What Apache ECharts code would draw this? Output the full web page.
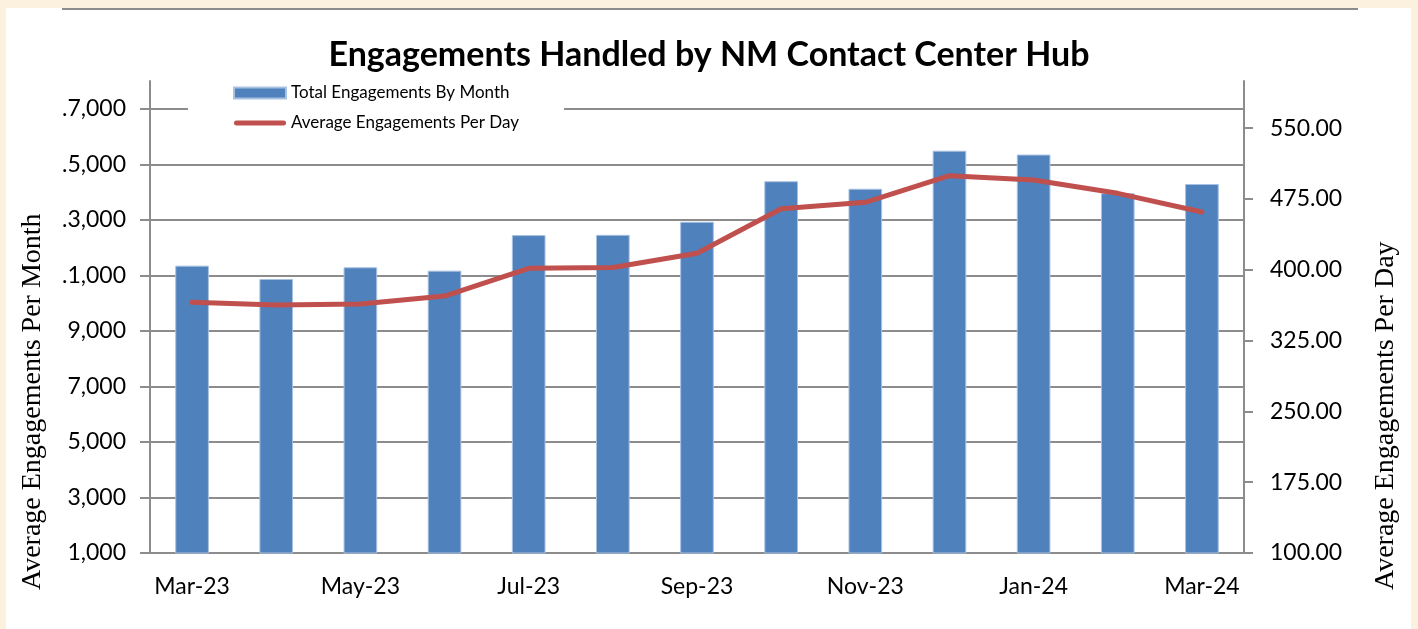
<!DOCTYPE html>
<html>
<head>
<meta charset="utf-8">
<script src="https://cdn.jsdelivr.net/npm/echarts@6/dist/echarts.min.js"></script>
<style>
  html, body { margin: 0; padding: 0; background: #FCF1DE; }
  #chart { width: 1418px; height: 629px; }
</style>
</head>
<body>
<div id="chart"></div>
<script>
const categories = ['Mar-23','Apr-23','May-23','Jun-23','Jul-23','Aug-23','Sep-23','Oct-23','Nov-23','Dec-23','Jan-24','Feb-24','Mar-24'];
const totalEngagements = [11350, 10870, 11290, 11170, 12450, 12460, 12930, 14390, 14120, 15490, 15350, 13960, 14290];
const avgPerDay = [365.6, 362.7, 363.8, 372.2, 401.6, 402.5, 417.5, 464.7, 471.5, 499.7, 495.1, 481.0, 461.2];
const leftTicks = [1000, 3000, 5000, 7000, 9000, 11000, 13000, 15000, 17000];
const leftTickLabels = ['1,000', '3,000', '5,000', '7,000', '9,000', '.1,000', '.3,000', '.5,000', '.7,000'];
const rightTicks = [100, 175, 250, 325, 400, 475, 550];
const seriesNames = ['Total Engagements By Month', 'Average Engagements Per Day'];
const titleText = 'Engagements Handled by NM Contact Center Hub';
const leftAxisTitle = 'Average Engagements Per Month';
const rightAxisTitle = 'Average Engagements Per Day';

const chart = echarts.init(document.getElementById('chart'), null, { renderer: 'canvas' });
const sans = 'Lato';
const gridColor = '#8C8C8C';

const option = {
  backgroundColor: '#FCF1DE',
  animation: false,
  title: {
    text: titleText,
    left: 'center',
    top: 33,
    textStyle: { fontFamily: sans, fontWeight: 'bold', fontSize: 34, color: '#000' }
  },
  legend: {
    orient: 'vertical',
    left: 188,
    top: 83,
    padding: [0, 45, 8, 45],
    backgroundColor: '#FFFFFF',
    itemWidth: 52,
    itemHeight: 11,
    itemGap: 10,
    symbolKeepAspect: true,
    textStyle: { fontFamily: sans, fontSize: 17, color: '#000', lineHeight: 20 },
    data: [
      { name: seriesNames[0], icon: 'rect' },
      { name: seriesNames[1], icon: 'path://M2.5,0 L49.5,0 A2.5,2.5 0 0 1 49.5,5 L2.5,5 A2.5,2.5 0 0 1 2.5,0 Z' }
    ]
  },
  graphic: [
    { type: 'rect', z: -10, shape: { x: 6, y: 8, width: 1405, height: 621 }, style: { fill: '#FFFFFF' } },
    { type: 'line', z: -5, shape: { x1: 62, y1: 9, x2: 1358, y2: 9 }, style: { stroke: '#8C8C8C', lineWidth: 2 } },
    { type: 'text', x: 33, y: 590, rotation: Math.PI / 2,
      style: { text: leftAxisTitle, fontFamily: 'Liberation Serif', fontSize: 28, fill: '#000', align: 'left', verticalAlign: 'middle' } },
    { type: 'text', x: 1386, y: 590, rotation: Math.PI / 2,
      style: { text: rightAxisTitle, fontFamily: 'Liberation Serif', fontSize: 28, fill: '#000', align: 'left', verticalAlign: 'middle' } }
  ],
  grid: { left: 150, right: 174, top: 81, bottom: 76, containLabel: false },
  xAxis: {
    type: 'category',
    data: categories,
    boundaryGap: true,
    axisLine: { lineStyle: { color: gridColor, width: 2 } },
    axisTick: { interval: 1, length: 8, lineStyle: { color: gridColor, width: 2 } },
    axisLabel: { interval: 1, margin: 22, fontFamily: sans, fontSize: 23, color: '#000' },
    splitLine: { show: false }
  },
  yAxis: [
    {
      type: 'value',
      min: 1000,
      max: 18000,
      position: 'left',
      axisLine: { show: true, lineStyle: { color: gridColor, width: 2 } },
      axisTick: { show: true, inside: false, length: 10, customValues: leftTicks, lineStyle: { color: gridColor, width: 2 } },
      axisLabel: {
        customValues: leftTicks,
        margin: 24,
        fontFamily: sans, fontSize: 23, color: '#000',
        formatter: function (v) { const i = leftTicks.indexOf(v); return i >= 0 ? leftTickLabels[i] : ''; }
      },
      splitLine: { show: true, lineStyle: { color: gridColor, width: 2 } }
    },
    {
      type: 'value',
      min: 100,
      max: 600,
      position: 'right',
      axisLine: { show: true, lineStyle: { color: gridColor, width: 2 } },
      axisTick: { show: true, inside: false, length: 9, customValues: rightTicks, lineStyle: { color: gridColor, width: 2 } },
      axisLabel: {
        customValues: rightTicks,
        margin: 26,
        fontFamily: sans, fontSize: 23, color: '#000',
        formatter: function (v) { return v.toFixed(2); }
      },
      splitLine: { show: false }
    }
  ],
  series: [
    {
      name: seriesNames[0],
      type: 'bar',
      yAxisIndex: 0,
      data: totalEngagements,
      barWidth: '40%',
      itemStyle: { color: '#4F81BD', borderColor: '#A9C1E0', borderWidth: 1 }
    },
    {
      name: seriesNames[1],
      type: 'line',
      yAxisIndex: 1,
      data: avgPerDay,
      symbol: 'none',
      showSymbol: false,
      lineStyle: { color: '#C0504D', width: 5, cap: 'round', join: 'round' },
      itemStyle: { color: '#C0504D' },
      z: 5
    }
  ]
};
chart.setOption(option);
</script>
</body>
</html>
